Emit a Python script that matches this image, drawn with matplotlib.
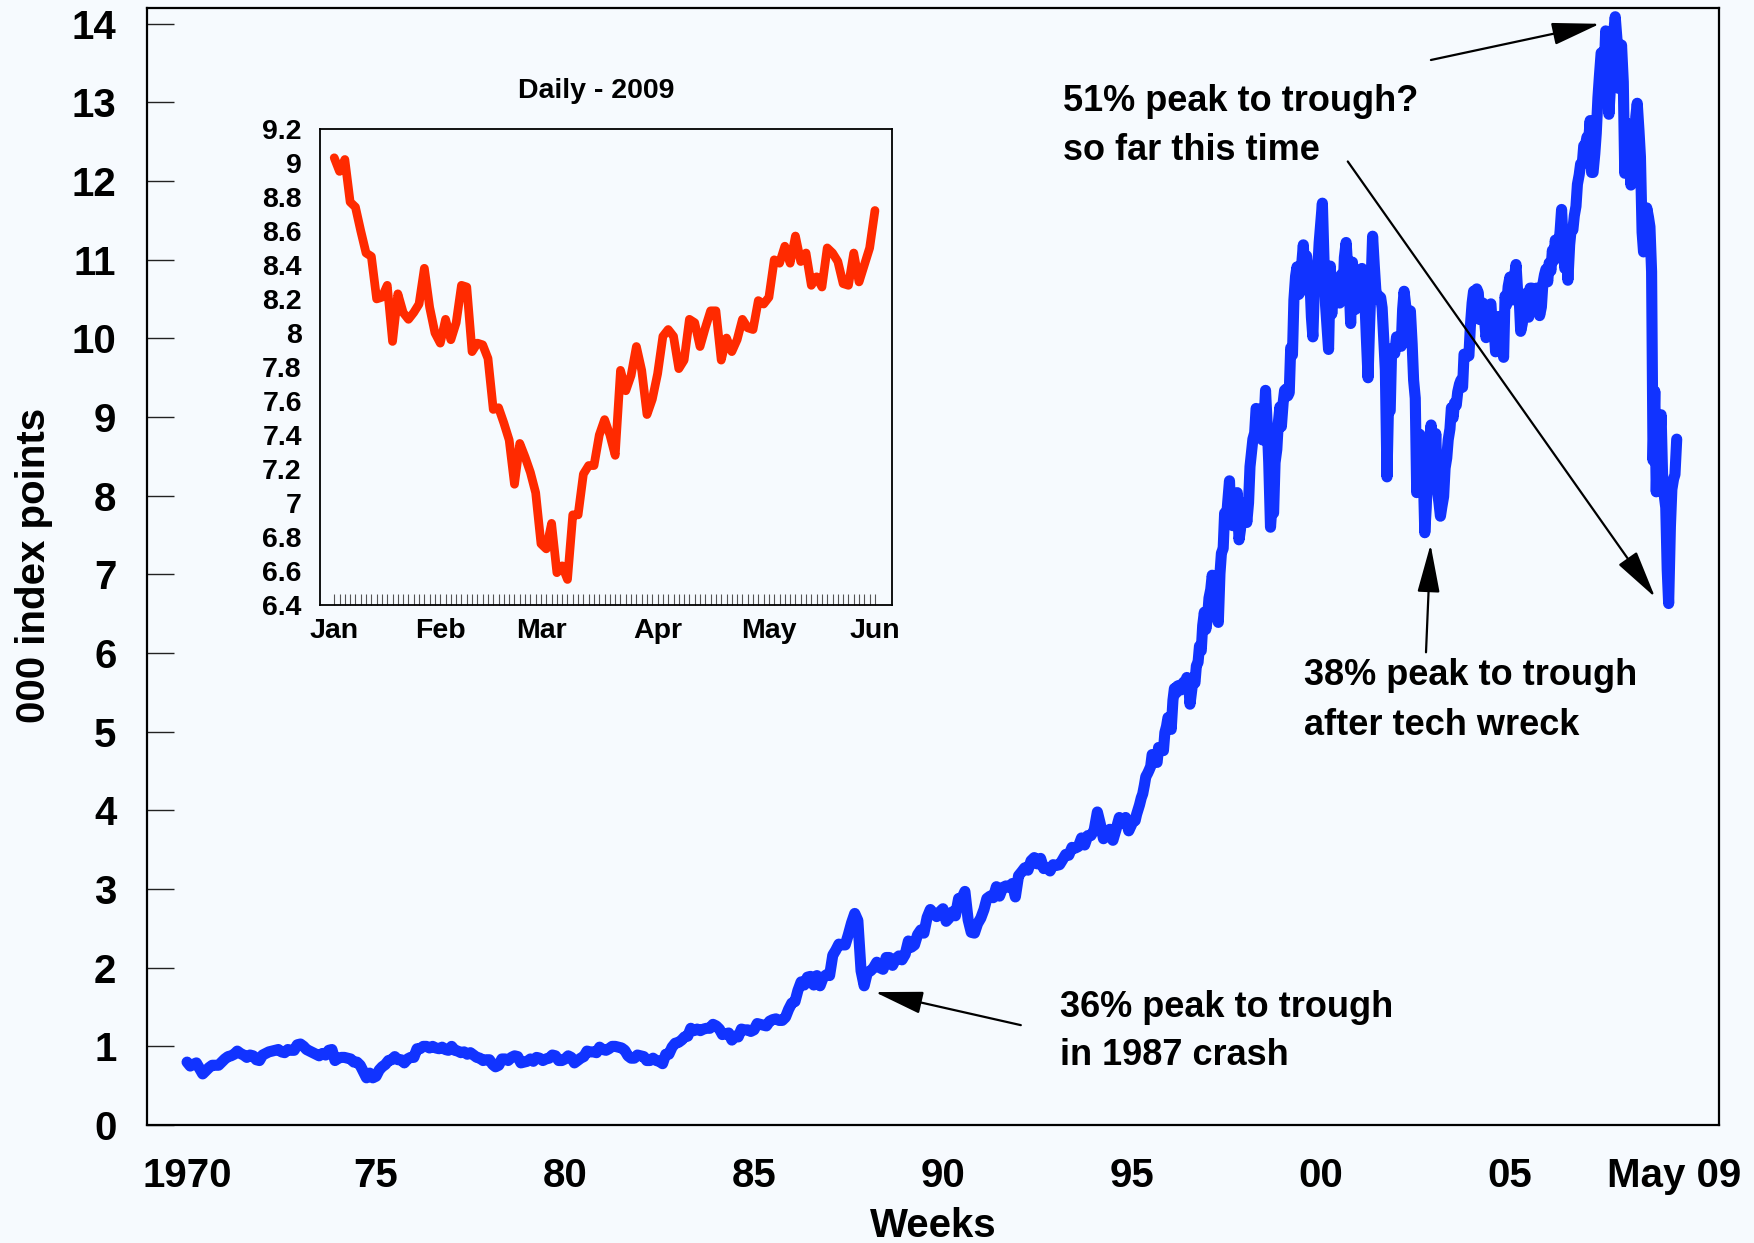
import numpy as np
import pandas as pd
import matplotlib
matplotlib.use("Agg")
import matplotlib.pyplot as plt

plt.rcParams['font.family'] = ['Liberation Sans', 'DejaVu Sans']
plt.rcParams['font.weight'] = 'bold'

# Weekly index, '000 points (monthly 1970-94, twice a month after)
dow_1970s = [
    0.80, 0.75, 0.77, 0.79, 0.72, 0.65, 0.69, 0.73, 0.76, 0.76, 0.76, 0.80,
    0.84, 0.87, 0.88, 0.90, 0.94, 0.91, 0.89, 0.86, 0.89, 0.88, 0.83, 0.82,
    0.89, 0.91, 0.93, 0.94, 0.95, 0.96, 0.93, 0.92, 0.96, 0.95, 0.95, 1.02,
    1.03, 1.00, 0.96, 0.94, 0.92, 0.90, 0.88, 0.91, 0.89, 0.95, 0.96, 0.82,
    0.85, 0.86, 0.86, 0.85, 0.84, 0.80, 0.80, 0.76, 0.68, 0.60, 0.66, 0.60,
    0.62, 0.70, 0.74, 0.77, 0.82, 0.83, 0.87, 0.83, 0.83, 0.79, 0.84, 0.86,
    0.86, 0.97, 0.97, 1.00, 1.00, 0.98, 1.00, 0.98, 0.97, 0.99, 0.96, 0.95,
    1.00, 0.95, 0.94, 0.92, 0.93, 0.90, 0.92, 0.89, 0.86, 0.85, 0.82, 0.83,
    0.83, 0.77, 0.74, 0.76, 0.84, 0.84, 0.82, 0.86, 0.88, 0.87, 0.79, 0.80,
    0.81, 0.84, 0.81, 0.86, 0.85, 0.82, 0.84, 0.85, 0.89, 0.88, 0.82, 0.82]
dow_1980s = [
    0.84, 0.88, 0.86, 0.79, 0.82, 0.85, 0.87, 0.94, 0.93, 0.93, 0.92, 0.99,
    0.96, 0.95, 0.97, 1.00, 1.00, 0.99, 0.98, 0.95, 0.88, 0.85, 0.85, 0.89,
    0.88, 0.87, 0.82, 0.82, 0.85, 0.82, 0.81, 0.78, 0.90, 0.90, 0.99, 1.04,
    1.05, 1.08, 1.12, 1.13, 1.23, 1.20, 1.22, 1.20, 1.22, 1.23, 1.23, 1.28,
    1.26, 1.22, 1.15, 1.16, 1.17, 1.08, 1.13, 1.12, 1.22, 1.21, 1.21, 1.19,
    1.21, 1.29, 1.28, 1.27, 1.26, 1.32, 1.34, 1.35, 1.33, 1.33, 1.37, 1.47,
    1.55, 1.57, 1.71, 1.82, 1.78, 1.88, 1.89, 1.78, 1.90, 1.77, 1.88, 1.91,
    1.90, 2.16, 2.22, 2.30, 2.29, 2.29, 2.42, 2.57, 2.69, 2.60, 1.96, 1.77,
    1.94, 1.96, 2.00, 2.07, 2.00, 1.98, 2.13, 2.13, 2.03, 2.11, 2.15, 2.10,
    2.17, 2.34, 2.26, 2.29, 2.42, 2.48, 2.44, 2.64, 2.74, 2.69, 2.65, 2.71]
dow_1990_94 = [
    2.75, 2.59, 2.63, 2.71, 2.66, 2.88, 2.88, 2.97, 2.61, 2.45, 2.44, 2.56,
    2.63, 2.74, 2.88, 2.91, 2.89, 3.03, 2.91, 3.02, 3.04, 3.02, 3.07, 2.90,
    3.17, 3.22, 3.27, 3.24, 3.36, 3.40, 3.32, 3.39, 3.26, 3.27, 3.23, 3.31,
    3.30, 3.31, 3.37, 3.44, 3.43, 3.53, 3.52, 3.54, 3.65, 3.56, 3.68, 3.68,
    3.75, 3.98, 3.83, 3.64, 3.68, 3.76, 3.62, 3.76, 3.91, 3.84, 3.91, 3.74]
dow_1995_99 = [
    3.83, 3.87, 3.87, 3.95, 4.01, 4.07, 4.16, 4.21, 4.32, 4.43, 4.47, 4.51,
    4.56, 4.71, 4.71, 4.64, 4.61, 4.80, 4.79, 4.76, 4.76, 4.99, 5.07, 5.18,
    5.12, 5.03, 5.40, 5.55, 5.49, 5.58, 5.59, 5.53, 5.57, 5.63, 5.64, 5.69,
    5.65, 5.35, 5.53, 5.69, 5.62, 5.84, 5.88, 6.09, 6.03, 6.35, 6.52, 6.30,
    6.45, 6.70, 6.81, 6.99, 6.88, 6.94, 6.58, 6.39, 7.01, 7.27, 7.33, 7.78,
    7.67, 7.92, 8.19, 7.69, 7.62, 7.74, 7.95, 8.04, 7.44, 7.57, 7.82, 7.85,
    7.91, 7.66, 7.91, 8.37, 8.55, 8.72, 8.80, 9.11, 9.06, 9.10, 8.90, 8.71,
    8.95, 9.34, 8.88, 8.42, 7.60, 7.87, 7.78, 8.42, 8.59, 8.92, 9.13, 8.88,
    9.18, 9.34, 9.36, 9.27, 9.31, 9.88, 9.79, 10.49, 10.79, 10.91, 10.56, 10.59,
    10.97, 11.19, 10.66, 11.05, 10.83, 10.80, 10.27, 10.02, 10.73, 10.86, 10.88, 11.22]
dow_2000_04 = [
    11.50, 11.72, 10.94, 10.42, 10.13, 9.86, 10.92, 10.31, 10.73, 10.61, 10.52, 10.71,
    10.45, 10.81, 10.52, 11.03, 11.22, 10.93, 10.65, 10.19, 10.97, 10.63, 10.37, 10.43,
    10.79, 10.53, 10.89, 10.78, 10.50, 10.03, 9.50, 10.13, 10.73, 11.30, 10.91, 10.62,
    10.50, 10.54, 10.52, 10.39, 9.95, 9.60, 8.24, 9.12, 9.08, 9.87, 9.85, 9.81,
    10.02, 9.99, 9.91, 9.90, 10.37, 10.60, 10.40, 10.19, 9.95, 10.35, 9.93, 9.47,
    9.24, 8.04, 8.26, 8.78, 8.66, 8.38, 7.53, 7.85, 8.52, 8.58, 8.90, 8.43,
    8.34, 8.79, 8.05, 7.91, 7.74, 7.86, 7.99, 8.35, 8.48, 8.71, 8.85, 9.12,
    8.99, 9.18, 9.15, 9.32, 9.42, 9.47, 9.38, 9.80, 9.80, 9.77, 9.78, 10.15,
    10.45, 10.60, 10.49, 10.63, 10.58, 10.24, 10.36, 10.45, 10.23, 10.01, 10.19, 10.41,
    10.44, 10.14, 10.14, 9.83, 10.17, 10.28, 10.19, 9.93, 9.76, 10.54, 10.43, 10.66]
dow_2005_09 = [
    10.78, 10.56, 10.49, 10.79, 10.94, 10.63, 10.50, 10.09, 10.19, 10.47, 10.47, 10.58,
    10.27, 10.64, 10.64, 10.60, 10.48, 10.64, 10.57, 10.29, 10.40, 10.69, 10.81, 10.88,
    10.72, 10.96, 10.86, 11.12, 10.99, 11.25, 11.11, 11.14, 11.37, 11.64, 11.17, 10.89,
    11.15, 10.74, 11.19, 11.38, 11.38, 11.56, 11.68, 11.96, 12.08, 12.22, 12.22, 12.45,
    12.46, 12.56, 12.52, 12.77, 12.11, 12.11, 12.35, 12.61, 13.06, 13.33, 13.63, 13.64,
    13.41, 13.91, 13.27, 12.85, 13.24, 13.44, 13.90, 14.09, 13.80, 13.18, 13.37, 13.73,
    13.26, 12.10, 12.74, 12.35, 12.27, 11.95, 12.26, 12.33, 12.82, 12.99, 12.64, 12.31,
    11.35, 11.10, 11.33, 11.66, 11.54, 11.42, 10.85, 8.45, 9.33, 8.05, 8.83, 8.63,
    9.03, 8.28, 8.00, 7.85, 7.06, 6.63, 7.61, 8.08, 8.21, 8.27, 8.72]

# Daily closes Jan 2 - Jun 1 2009, '000 points
daily_jan = [9.03, 8.95, 9.02, 8.77, 8.74, 8.60, 8.47, 8.45, 8.20, 8.21,
             8.28, 7.95, 8.23, 8.12, 8.08, 8.12, 8.17, 8.38, 8.15, 8.00]
daily_feb = [7.94, 8.08, 7.96, 8.06, 8.28, 8.27, 7.89, 7.94, 7.93, 7.85,
             7.55, 7.56, 7.47, 7.37, 7.11, 7.35, 7.27, 7.18, 7.06]
daily_mar = [6.76, 6.73, 6.88, 6.59, 6.63, 6.55, 6.93, 6.93, 7.17, 7.22, 7.22,
             7.40, 7.49, 7.40, 7.28, 7.78, 7.66, 7.75, 7.92, 7.78, 7.52, 7.61]
daily_apr = [7.76, 7.98, 8.02, 7.98, 7.79, 7.84, 8.08, 8.06, 7.92, 8.03, 8.13,
             8.13, 7.84, 7.97, 7.89, 7.96, 8.08, 8.03, 8.02, 8.19, 8.17]
daily_may = [8.21, 8.43, 8.41, 8.51, 8.41, 8.57, 8.42, 8.47, 8.28, 8.33,
             8.27, 8.50, 8.47, 8.42, 8.29, 8.28, 8.47, 8.30, 8.40, 8.50]
daily_jun = [8.72]
inset_months = ['Jan', 'Feb', 'Mar', 'Apr', 'May', 'Jun']

main_ticks = [1970, 1975, 1980, 1985, 1990, 1995, 2000, 2005, 2009.34]
main_ticklabels = ['1970', '75', '80', '85', '90', '95', '00', '05', 'May 09']


def to_year(d):
    days = np.where(d.is_leap_year, 366, 365)
    return np.asarray(d.year + (d.dayofyear - 1) / days, dtype=float)


monthly = pd.date_range('1970-01-01', '1994-12-01', freq='MS')
semimonthly = pd.date_range('1995-01-01', '2009-06-01', freq='SMS')
x_main = np.concatenate([to_year(monthly), to_year(semimonthly)])
y_main = np.array(dow_1970s + dow_1980s + dow_1990_94 + dow_1995_99 + dow_2000_04 + dow_2005_09)

daily = daily_jan + daily_feb + daily_mar + daily_apr + daily_may + daily_jun
x_daily = np.arange(len(daily))
month_starts = np.cumsum([0, len(daily_jan), len(daily_feb), len(daily_mar),
                          len(daily_apr), len(daily_may)])

bg = '#f6fafe'
blue = '#1133ff'
red = '#ff2a00'

fig = plt.figure(figsize=(17.54, 12.43), dpi=100, facecolor=bg)

# Main chart
ax = fig.add_axes([0.0838, 0.0949, 0.8962, 0.8986], facecolor=bg)
ax.plot(x_main, y_main, color=blue, lw=8, solid_joinstyle='round', solid_capstyle='round')
ax.set_xlim(1968.94, 2010.53)
ax.set_ylim(0, 14.2)
ax.set_yticks(range(0, 15))
ax.set_xticks(main_ticks)
ax.set_xticklabels(main_ticklabels)
ax.tick_params(axis='y', direction='in', length=19.5, width=1, color='#222222',
               labelsize=29, pad=22)
ax.tick_params(axis='x', length=0, labelsize=29, pad=23)
for s in ax.spines.values():
    s.set_linewidth(1.6)

fig.text(933 / 1754, 1 - 1226 / 1243, 'Weeks', ha='center', va='center', fontsize=29)
fig.text(34 / 1754, 1 - 565 / 1243, '000 index points', ha='center', va='center',
         rotation=90, fontsize=29)

# Annotations
arrow = dict(arrowstyle='-|>,head_length=1.5,head_width=0.35', lw=1.6, color='black',
             shrinkA=0, shrinkB=0, mutation_scale=20)
ax.annotate('', xy=(2007.38, 14.00), xytext=(2002.91, 13.54), arrowprops=arrow)
ax.annotate('', xy=(2008.84, 6.71), xytext=(2000.71, 12.25), arrowprops=arrow)
ax.annotate('', xy=(2002.90, 7.38), xytext=(2002.78, 6.01), arrowprops=arrow)
ax.annotate('', xy=(1988.20, 1.69), xytext=(1992.06, 1.27), arrowprops=arrow)

notes = [(1993.17, 13.01, '51% peak to trough?'), (1993.17, 12.39, 'so far this time'),
         (1999.55, 5.71, '38% peak to trough'), (1999.55, 5.08, 'after tech wreck'),
         (1993.10, 1.50, '36% peak to trough'), (1993.10, 0.88, 'in 1987 crash')]
for nx, ny, txt in notes:
    ax.text(nx, ny, txt, ha='left', va='center', fontsize=26)

# Inset: daily 2009
ins = fig.add_axes([0.1824, 0.5133, 0.3261, 0.383], facecolor=bg)
ins.plot(x_daily, daily, color=red, lw=6.3, solid_joinstyle='round', solid_capstyle='round')
ins.set_xlim(-2.7, 105.2)
ins.set_ylim(6.4, 9.2)
yt = np.round(np.arange(6.4, 9.21, 0.2), 1)
ins.set_yticks(yt)
ins.set_yticklabels([f'{v:g}' for v in yt])
ins.set_xticks(month_starts)
ins.set_xticklabels(inset_months)
ins.set_xticks(x_daily, minor=True)
ins.tick_params(axis='y', length=0, labelsize=20.5, pad=13)
ins.tick_params(axis='x', which='both', direction='in', length=8, width=0.8,
                color='#555555', labelsize=20.5, pad=9.5)
for s in ins.spines.values():
    s.set_linewidth(1.3)
fig.text(596 / 1754, 1 - 91 / 1243, 'Daily - 2009', ha='center', va='center', fontsize=20.5)

fig.savefig('out.png', dpi=100, facecolor=bg)
